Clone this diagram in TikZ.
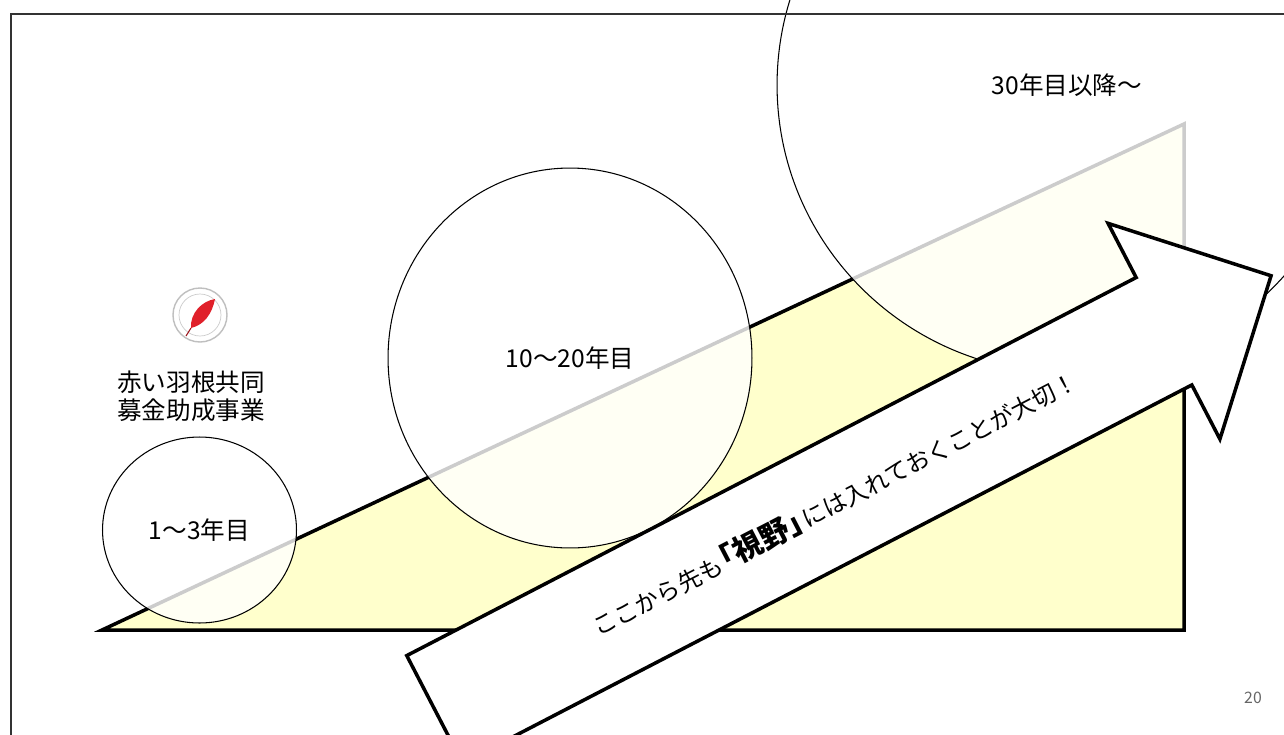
\documentclass[tikz,border=0pt]{standalone}
\usepackage{fontspec}
\setmainfont{Noto Sans CJK JP}
\usetikzlibrary{shapes.geometric}
\definecolor{wedge}{HTML}{FFFFCC}
\definecolor{feather}{HTML}{E0202A}
\tikzset{
    stage/.style={ellipse, draw=black, line width=.6pt, fill=white,
        fill opacity=.8, text opacity=1, inner sep=0pt,
        font=\fontsize{14}{17}\selectfont}, % 半透明的圆
    rise/.style={line width=2pt, fill=wedge, line join=miter},
    bigarrow/.style={line width=2pt, fill=white, line join=miter},
}

\begin{document}
\begin{tikzpicture}[x=0.02cm, y=-0.02cm]
    \clip (0,0) rectangle (1284,734);
    \fill[white] (0,0) rectangle (1284,734);
    % 三角形
    \draw[rise] (102,630) -- (1184,630) -- (1184,124) -- cycle;
    % 三个阶段
    \node[stage, minimum width=3.88cm, minimum height=3.72cm] (first) at (199.5,530) {1〜3年目};
    \node[stage, minimum width=7.28cm, minimum height=7.6cm] (second) at (570,358) {10〜20年目};
    \node[stage, minimum width=11.6cm, minimum height=11.52cm] (third) at (1067,85) {\raisebox{-3pt}{30年目以降〜}};
    % 箭头, 沿轴线旋转
    \begin{scope}[shift={(434.6,709.3)}, rotate=27.4]
        \draw[bigarrow] (0,-60.5) -- (821.6,-60.5) -- (821.6,-121.5) -- (942.2,0)
            -- (821.6,121.5) -- (821.6,60.5) -- (0,60.5) -- cycle;
        \node[transform shape, font=\fontsize{13.5}{16}\selectfont] (message) at (450,0)
            {ここから先も{\fontsize{17}{20}\selectfont\bfseries\kern-.45em「視野」\kern-.45em}には入れておくことが大切！};
    \end{scope}
    % 标志
    \coordinate (logo) at (200,315);
    \draw[black!25, line width=.8pt, fill=white] (logo) circle (27);
    \draw[black!20, line width=.4pt] (logo) circle (21);
    \fill[feather] ([shift={(-9,13)}]logo) .. controls ([shift={(-10,-2)}]logo) and ([shift={(2,-14)}]logo)
        .. ([shift={(15,-16)}]logo) .. controls ([shift={(12,-1)}]logo) and ([shift={(4,10)}]logo) .. cycle;
    \draw[feather!70!black, line width=.6pt] ([shift={(-9,13)}]logo) -- ([shift={(-14,21)}]logo);
    \node[font=\fontsize{14}{16}\selectfont, align=center] (label) at (191,396) {赤い羽根共同\\募金助成事業};
    \node[text=black!60, font=\fontsize{9}{11}\selectfont] (page) at (1253,698) {20};
    % 外框
    \draw[line width=.8pt, black!80] (11,14) rectangle (1300,760);
\end{tikzpicture}
\end{document}
